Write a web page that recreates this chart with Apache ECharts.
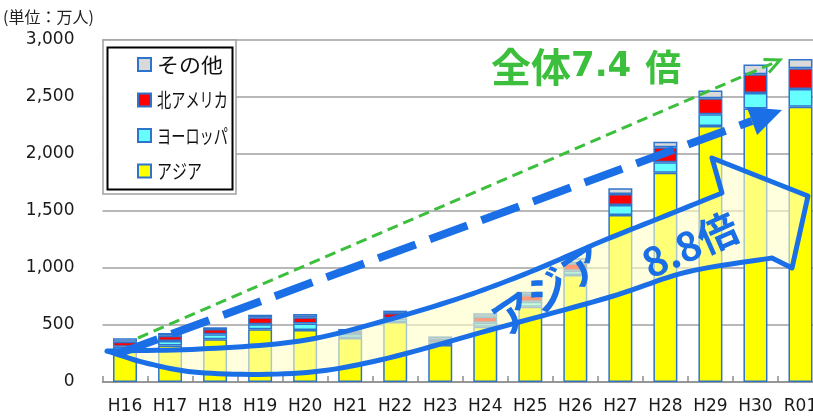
<!DOCTYPE html>
<html><head><meta charset="utf-8">
<script src="https://cdn.jsdelivr.net/npm/echarts@6/dist/echarts.min.js"></script>
<style>html,body{margin:0;padding:0;overflow:hidden;background:#fff;width:813px;height:416px}#c{width:823px;height:416px}</style>
</head><body><div id="c"></div>
<script>
const categories = ['H16','H17','H18','H19','H20','H21','H22','H23','H24','H25','H26','H27','H28','H29','H30','R01'];
const asia     = [275, 320, 375, 462, 456, 385, 526, 325, 485, 660, 938, 1465, 1836, 2246, 2400, 2415];
const europe   = [35, 40, 44, 44, 58, 35, 30, 25, 35, 44, 38, 88, 91, 103, 135, 155];
const namerica = [44, 45, 46, 61, 55, 30, 50, 30, 53, 59, 65, 96, 132, 140, 165, 182];
const other    = [30, 25, 15, 23, 27, 15, 20, 20, 30, 29, 44, 50, 49, 67, 85, 82];
const seriesNames = ['アジア','ヨーロッパ','北アメリカ','その他'];
const legendOrder = ['その他','北アメリカ','ヨーロッパ','アジア'];
const yTicks = {min:0, max:3000, interval:500};

const colors = {'アジア':'#ffff00','ヨーロッパ':'#66ffff','北アメリカ':'#ff0000','その他':'#d9d9d9'};
const dataSets = [asia, europe, namerica, other];
const chart = echarts.init(document.getElementById('c'), null, {renderer:'canvas'});

function smoothPts(pts){
  const out=[pts[0]];
  for(let i=0;i<pts.length-1;i++){
    const p0=pts[i-1]||pts[i], p1=pts[i], p2=pts[i+1], p3=pts[i+2]||p2;
    const c1=[p1[0]+(p2[0]-p0[0])/6, p1[1]+(p2[1]-p0[1])/6];
    const c2=[p2[0]-(p3[0]-p1[0])/6, p2[1]-(p3[1]-p1[1])/6];
    for(let k=1;k<=12;k++){
      const t=k/12, s=1-t;
      out.push([s*s*s*p1[0]+3*s*s*t*c1[0]+3*s*t*t*c2[0]+t*t*t*p2[0],
                s*s*s*p1[1]+3*s*s*t*c1[1]+3*s*t*t*c2[1]+t*t*t*p2[1]]);
    }
  }
  return out;
}
const upper=[[107,351],[200,349],[300,341],[380,322],[460,298],[530,272],[600,242],[660,218],[722,193]];
const lower=[[772,258],[687,272],[610,297],[490,330],[380,360],[300,373],[205,373],[150,364],[107,351]];
const bandPts=[].concat(smoothPts(upper),[[712,158],[808,196],[792,268]],smoothPts(lower).slice(0,-1));

function arrowHead(x0,y0,x1,y1,len,half){
  const dx=x1-x0, dy=y1-y0, L=Math.hypot(dx,dy), ux=dx/L, uy=dy/L, nx=-uy, ny=ux;
  const bx=x1-len*ux, by=y1-len*uy;
  return {base:[bx,by], p1:[bx+half*nx,by+half*ny], p2:[bx-half*nx,by-half*ny]};
}
const blueA=arrowHead(120,353,782,110,32,15);
const greenA=arrowHead(138,338,780,60,15,7);
const blue='#1a6fe6';
const green='#3cbf3c';

// legend drawn as graphic (box + icons + labels)
const legendTargetW={'その他':66,'北アメリカ':71,'ヨーロッパ':71,'アジア':45};
const legendEls=[
  {type:'rect',shape:{x:103,y:40,width:133,height:154},style:{fill:'#fff',stroke:'#a0a0a0',lineWidth:1.5},z:5},
  {type:'rect',shape:{x:107.5,y:47.5,width:125,height:142},style:{fill:'#fff',stroke:'#000',lineWidth:2},z:6}
];
legendOrder.forEach((n,i)=>{
  const cy=64+i*35.5;
  legendEls.push({type:'rect',shape:{x:138,y:cy-6,width:13,height:13},style:{fill:colors[n],stroke:'#2e74cc',lineWidth:2},z:7});
  const baseW=n.length*20;
  legendEls.push({type:'text',x:157,y:cy+1,scaleX:legendTargetW[n]/baseW,
    style:{text:n,font:'20px "Noto Sans CJK JP"',fill:'#111',align:'left',verticalAlign:'middle'},z:7});
});

const option={
  animation:false,
  title:{text:'(単位：万人)',left:3,top:9,padding:0,textStyle:{fontFamily:'Noto Sans CJK JP',fontSize:16,fontWeight:'normal',color:'#222'}},
  grid:{left:102.5,right:0,top:40,bottom:34,containLabel:false},
  xAxis:{type:'category',data:categories,
    axisLine:{lineStyle:{color:'#8c8c8c',width:1.5}},
    axisTick:{show:true,inside:true,length:6,lineStyle:{color:'#8c8c8c',width:1.5}},
    axisLabel:{fontFamily:'DejaVu Sans',fontSize:17,color:'#1a1a1a',margin:16,interval:0}},
  yAxis:{type:'value',min:yTicks.min,max:yTicks.max,interval:yTicks.interval,
    axisLine:{show:false},axisTick:{show:false},
    splitLine:{lineStyle:{color:'#a0a0a0',width:1.5}},
    axisLabel:{fontFamily:'DejaVu Sans',fontSize:17,color:'#1a1a1a',margin:28}},
  series:seriesNames.map((n,i)=>({
    name:n,type:'bar',stack:'t',barWidth:24,data:dataSets[i],
    itemStyle:{color:colors[n],borderColor:'#2e74cc',borderWidth:1.5}
  })),
  graphic:legendEls.concat([
    {type:'polygon',shape:{points:bandPts},style:{fill:'rgba(255,255,200,0.6)',stroke:blue,lineWidth:5,lineJoin:'round'},z:100},
    {type:'text',x:548,y:290,rotation:34*Math.PI/180,style:{text:'アジア',font:'bold 42px "Noto Sans CJK JP"',fill:blue,align:'center',verticalAlign:'middle'},z:101},
    {type:'text',x:690,y:245,rotation:24*Math.PI/180,style:{text:'8.8倍',font:'bold 40px "Noto Sans CJK JP"',fill:blue,align:'center',verticalAlign:'middle'},z:101},
    {type:'line',shape:{x1:120,y1:353,x2:blueA.base[0],y2:blueA.base[1]},style:{stroke:blue,lineWidth:8,lineDash:[40,15]},z:102},
    {type:'polygon',shape:{points:[blueA.p1,[782,110],blueA.p2]},style:{fill:blue},z:102},
    {type:'line',shape:{x1:138,y1:338,x2:778,y2:61},style:{stroke:green,lineWidth:3,lineDash:[11,6]},z:103},
    {type:'polyline',shape:{points:[greenA.p1,[780,60],greenA.p2]},style:{stroke:green,lineWidth:3,fill:'none'},z:103},
    {type:'text',x:491,y:67,style:{rich:{
        a:{font:'bold 40px "Noto Sans CJK JP"',fill:green},
        d:{font:'bold 34px "DejaVu Sans"',fill:green},
        b:{font:'bold 36px "Noto Sans CJK JP"',fill:green,padding:[0,0,0,14]}},
      text:'{a|全体}{d|7.4}{b|倍}',verticalAlign:'middle'},z:103}
  ])
};
chart.setOption(option);
</script></body></html>
